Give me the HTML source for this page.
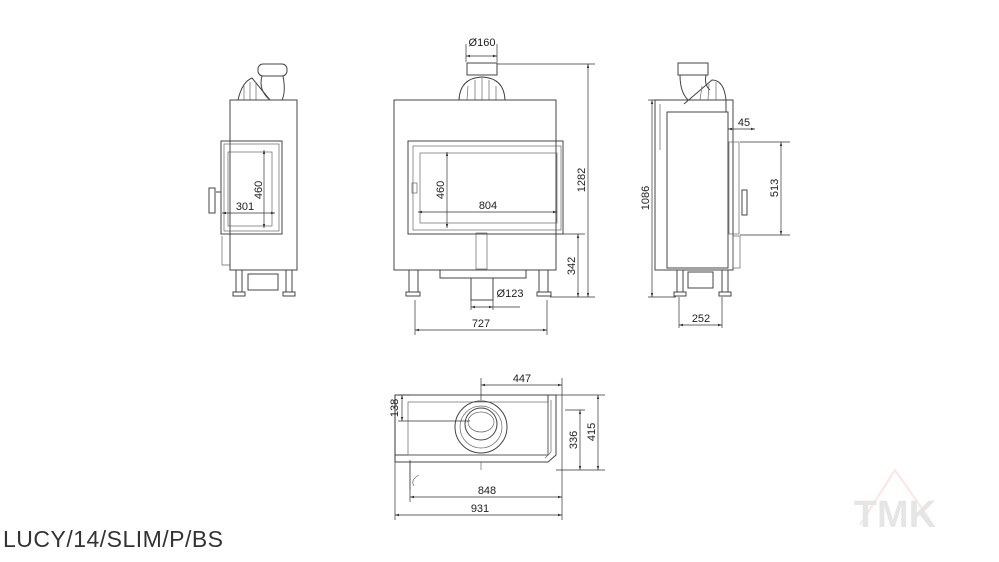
<!DOCTYPE html>
<html><head><meta charset="utf-8"><style>
html,body{margin:0;padding:0;background:#fff;width:999px;height:562px;overflow:hidden}
svg{display:block}
text{font-family:"Liberation Sans",sans-serif;font-size:11px;fill:#222}
.l{stroke:#444;stroke-width:1;fill:none}
.t{stroke:#666;stroke-width:0.7;fill:none}
.d{stroke:#333;stroke-width:0.7;fill:none}
</style></head><body>
<svg width="999" height="562" viewBox="0 0 999 562">
<defs>
<marker id="a" viewBox="0 0 10 10" refX="10" refY="5" markerWidth="6" markerHeight="6" orient="auto-start-reverse"><path d="M0,2 L10,5 L0,8z" fill="#333"/></marker>
</defs>
<g class="l">
<rect x="258" y="64" width="29" height="12" rx="5"/>
<path d="M262 76 Q258 90 270 100 M283 76 Q286 92 282 100"/>
<path d="M238 100 Q242 82 252 78 L270 100"/>
<path d="M244 100 L244 86 M250 100 L250 82 M256 100 L256 82" class="t"/>
<rect x="230" y="100" width="67" height="170"/>
<rect x="221" y="141" width="61" height="93"/>
<rect x="224" y="144" width="55" height="87" class="t"/>
<rect x="228" y="152" width="44" height="74" class="t"/>
<rect x="209" y="188" width="6" height="25"/>
<path d="M216 192 L221 192"/>
<path d="M222 236 L222 265 L230 265" class="t"/>
<rect x="236" y="270" width="6" height="22"/><rect x="286" y="270" width="6" height="22"/>
<rect x="248" y="274" width="30" height="16"/>
<rect x="233" y="292" width="12" height="4"/><rect x="283" y="292" width="12" height="4"/>
<rect x="467" y="63" width="30" height="12"/>
<path d="M459 100 Q460 78 482 77 Q504 78 505 100"/>
<path d="M467 100 L468 86 M475 100 L475 80 M482 100 L482 78 M489 100 L489 80 M496 100 L496 86" class="t"/>
<rect x="394" y="100" width="162" height="170"/>
<rect x="408" y="141" width="155" height="93"/>
<rect x="413" y="146" width="148" height="84" class="t"/>
<rect x="420" y="153" width="137" height="70" class="t"/>
<rect x="412" y="183" width="5" height="10" class="t"/>
<rect x="476" y="233" width="11" height="36" class="t"/>
<rect x="440" y="270" width="86" height="8"/>
<rect x="471" y="278" width="22" height="22"/>
<rect x="409" y="270" width="9" height="22"/><rect x="539" y="270" width="9" height="22"/>
<rect x="406" y="292" width="14" height="4"/><rect x="537" y="292" width="14" height="4"/>
<rect x="678" y="63" width="30" height="12"/>
<path d="M680 75 Q680 92 688 100 M706 75 Q704 85 710 90"/>
<path d="M684 104 L712 80 Q724 80 726 100 L726 112"/>
<path d="M700 100 L702 86 M708 100 L709 84 M716 100 L716 82" class="t"/>
<rect x="655" y="100" width="78" height="170"/>
<rect x="667" y="112" width="61" height="156"/>
<path d="M660 104 L660 150" class="t"/>
<rect x="729" y="142" width="10" height="92" class="t"/>
<rect x="742" y="190" width="5" height="25"/>
<rect x="733" y="236" width="7" height="32" class="t"/>
<rect x="677" y="270" width="6" height="22"/><rect x="722" y="270" width="6" height="22"/>
<rect x="688" y="272" width="25" height="16"/>
<rect x="674" y="292" width="12" height="4"/><rect x="719" y="292" width="12" height="4"/>
<rect x="395" y="395" width="153" height="60"/>
<rect x="408" y="402" width="140" height="53" class="t"/>
<path d="M548 395 L556 395 L556 455 L548 462 L395 462 L395 455"/>
<path d="M551 400 L551 452 L545 458" class="t"/>
<circle cx="481" cy="427" r="26"/>
<circle cx="481" cy="427" r="21" class="t"/>
<circle cx="481" cy="424" r="16"/>
<ellipse cx="481" cy="422" rx="13" ry="10" class="t"/>
<path d="M410 462 L410 490 M419 475 Q410 480 414 486" class="t"/>
<path d="M481 462 L481 470" class="t"/>
</g>
<g class="d">
<path d="M466 44 L466 62 M497 44 L497 62"/><path d="M466 56 L497 56" marker-start="url(#a)" marker-end="url(#a)"/>
<path d="M497 64 L595 64 M550 297 L595 297 M563 234 L585 234"/>
<path d="M588 64 L588 297" marker-start="url(#a)" marker-end="url(#a)"/>
<path d="M578 234 L578 297" marker-start="url(#a)" marker-end="url(#a)"/>
<path d="M415 300 L415 335 M547 300 L547 335"/>
<path d="M415 330 L547 330" marker-start="url(#a)" marker-end="url(#a)"/>
<path d="M471 300 L471 310 M493 300 L493 310"/>
<path d="M471 307 L493 307" marker-start="url(#a)" marker-end="url(#a)"/><path d="M493 307 L520 307"/>
<path d="M418 212 L557 212" marker-start="url(#a)" marker-end="url(#a)"/>
<path d="M447 152 L447 228" marker-start="url(#a)" marker-end="url(#a)"/>
<path d="M222 213 L275 213" marker-start="url(#a)" marker-end="url(#a)"/>
<path d="M264 150 L264 228" marker-start="url(#a)" marker-end="url(#a)"/>
<path d="M648 100 L660 100 M648 297 L676 297"/>
<path d="M652 100 L652 297" marker-start="url(#a)" marker-end="url(#a)"/>
<path d="M740 142 L790 142 M740 235 L790 235"/>
<path d="M781 142 L781 235" marker-start="url(#a)" marker-end="url(#a)"/>
<path d="M728 129 L755 129" marker-start="url(#a)" marker-end="url(#a)"/>
<path d="M679 297 L679 328 M722 297 L722 328"/>
<path d="M679 325 L722 325" marker-start="url(#a)" marker-end="url(#a)"/>
<path d="M481 378 L481 400 M562 378 L562 520"/>
<path d="M481 385 L562 385" marker-start="url(#a)" marker-end="url(#a)"/>
<path d="M395 395 L395 520 M410 460 L410 502"/>
<path d="M410 497 L562 497" marker-start="url(#a)" marker-end="url(#a)"/>
<path d="M395 515 L562 515" marker-start="url(#a)" marker-end="url(#a)"/>
<path d="M398 395 L410 395 M398 421 L470 421"/>
<path d="M402 395 L402 421" marker-start="url(#a)" marker-end="url(#a)"/>
<path d="M556 395 L605 395 M565 410 L585 410 M556 470 L605 470"/>
<path d="M580 410 L580 470" marker-start="url(#a)" marker-end="url(#a)"/>
<path d="M598 395 L598 470" marker-start="url(#a)" marker-end="url(#a)"/>
</g>
<text x="482" y="46" text-anchor="middle">Ø160</text>
<text x="488" y="209" text-anchor="middle">804</text>
<text x="481" y="327" text-anchor="middle">727</text>
<text x="510" y="297" text-anchor="middle">Ø123</text>
<text x="245" y="210" text-anchor="middle">301</text>
<text x="522" y="382" text-anchor="middle">447</text>
<text x="487" y="494" text-anchor="middle">848</text>
<text x="480" y="512" text-anchor="middle">931</text>
<text x="744" y="126" text-anchor="middle">45</text>
<text x="701" y="322" text-anchor="middle">252</text>
<g text-anchor="middle">
<text transform="translate(444,190) rotate(-90)">460</text>
<text transform="translate(262,190) rotate(-90)">460</text>
<text transform="translate(585,180) rotate(-90)">1282</text>
<text transform="translate(575,266) rotate(-90)">342</text>
<text transform="translate(649,198) rotate(-90)">1086</text>
<text transform="translate(778,188) rotate(-90)">513</text>
<text transform="translate(398,408) rotate(-90)">138</text>
<text transform="translate(577,440) rotate(-90)">336</text>
<text transform="translate(595,432) rotate(-90)">415</text>
</g>
<text x="3" y="547" style="font-size:23px;fill:#333" textLength="220">LUCY/14/SLIM/P/BS</text>
<g opacity="0.25">
<path d="M860 525 L895 470 L930 520" stroke="#f4a090" stroke-width="2" fill="none"/>
<text x="895" y="527" text-anchor="middle" style="font-size:38px;font-weight:bold;fill:#999">TMK</text>
</g>
</svg>
</body></html>
